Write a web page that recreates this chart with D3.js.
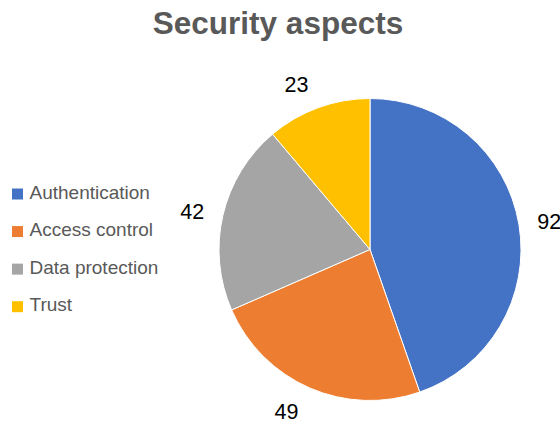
<!DOCTYPE html>
<html>
<head>
<meta charset="utf-8">
<script src="https://cdn.jsdelivr.net/npm/d3@7"></script>
<style>
  html, body { margin: 0; padding: 0; background: #fff; }
  svg { display: block; }
</style>
</head>
<body>
<svg id="chart" width="560" height="425"></svg>
<script>
const title = "Security aspects";
const categories = ["Authentication", "Access control", "Data protection", "Trust"];
const values = [92, 49, 42, 23];
const colors = ["#4472C4", "#ED7D31", "#A5A5A5", "#FFC000"];

const W = 560, H = 425;
const cx = 370, cy = 249.5, r = 151;
const font = "'Liberation Sans', Arial, sans-serif";

const svg = d3.select("#chart");

svg.append("text")
  .attr("x", 278).attr("y", 34)
  .attr("text-anchor", "middle")
  .attr("font-family", font)
  .attr("font-weight", "bold")
  .attr("font-size", 31.5)
  .attr("fill", "#595959")
  .text(title);

const data = categories.map((c, i) => ({ cat: c, value: values[i], color: colors[i] }));
const pie = d3.pie().value(d => d.value).sort(null);
const arcs = pie(data);
const arc = d3.arc().innerRadius(0).outerRadius(r);

const g = svg.append("g").attr("transform", `translate(${cx},${cy})`);
g.selectAll("path.slice")
  .data(arcs)
  .join("path")
  .attr("class", "slice")
  .attr("d", arc)
  .attr("fill", d => d.data.color)
  .attr("stroke", "#fff")
  .attr("stroke-width", 1);

// data labels outside end
const labelSize = 21.5;
g.selectAll("text.lbl")
  .data(arcs)
  .join("text")
  .attr("class", "lbl")
  .attr("font-family", font)
  .attr("font-size", labelSize)
  .attr("fill", "#000")
  .attr("text-anchor", "middle")
  .attr("dominant-baseline", "central")
  .each(function(d) {
    const a = (d.startAngle + d.endAngle) / 2;
    const s = Math.sin(a), c = Math.cos(a);
    const rho = r + 16 + 10 * Math.abs(c);
    const x = rho * s + 13 * Math.sign(s);
    const y = -rho * c;
    d3.select(this).attr("x", x).attr("y", y + 1);
  })
  .text(d => d.data.value);

// legend
const legend = svg.append("g");
const ly = d3.scalePoint().domain(categories).range([194, 306.7]);
const items = legend.selectAll("g.item")
  .data(data)
  .join("g")
  .attr("class", "item")
  .attr("transform", d => `translate(0,${ly(d.cat)})`);
items.append("rect")
  .attr("x", 12).attr("y", -5.5)
  .attr("width", 11).attr("height", 11)
  .attr("fill", d => d.color);
items.append("text")
  .attr("x", 29.5).attr("y", 4.5)
  .attr("font-family", font)
  .attr("font-size", 19)
  .attr("fill", "#595959")
  .text(d => d.cat);
</script>
</body>
</html>
